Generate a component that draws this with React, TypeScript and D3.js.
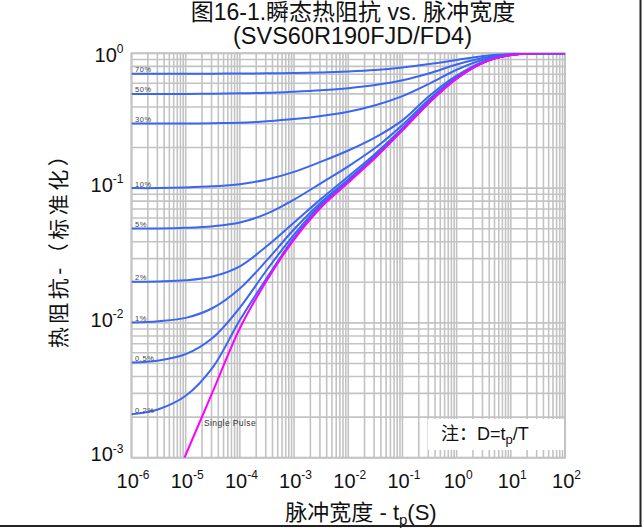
import React from 'react';
import * as d3 from 'd3';

const W = 643;
const H = 529;

// pulse-width grid (s) for the duty-cycle curves
const tGrid = [1e-6, 3.16e-6, 1e-5, 3.16e-5, 1e-4, 3.16e-4, 1e-3, 3.16e-3, 1e-2, 3.16e-2, 1e-1, 3.16e-1, 1, 3.16, 10, 31.6, 100];

const dutyLabels = ['70%', '50%', '30%', '10%', '5%', '2%', '1%', '0.5%', '0.2%'];
const duty70 = [0.705, 0.705, 0.705, 0.706, 0.708, 0.71, 0.715, 0.721, 0.733, 0.752, 0.785, 0.832, 0.891, 0.955, 0.991, 1, 1];
const duty50 = [0.5, 0.5, 0.5, 0.501, 0.505, 0.509, 0.519, 0.532, 0.551, 0.581, 0.63, 0.711, 0.826, 0.927, 0.986, 1, 1];
const duty30 = [0.301, 0.301, 0.301, 0.303, 0.305, 0.313, 0.325, 0.343, 0.369, 0.412, 0.481, 0.596, 0.755, 0.9, 0.982, 1, 1];
const duty10 = [0.1, 0.1, 0.101, 0.103, 0.107, 0.116, 0.132, 0.157, 0.19, 0.238, 0.318, 0.484, 0.682, 0.871, 0.975, 1, 1];
const duty5 = [0.0501, 0.0502, 0.0508, 0.0522, 0.0556, 0.0646, 0.0822, 0.109, 0.145, 0.199, 0.294, 0.459, 0.667, 0.863, 0.975, 1, 1];
const duty2 = [0.0202, 0.0203, 0.0207, 0.0221, 0.0263, 0.0372, 0.0556, 0.0832, 0.122, 0.18, 0.278, 0.445, 0.658, 0.859, 0.973, 1, 1];
const duty1 = [0.01005, 0.0103, 0.0109, 0.0129, 0.018, 0.0292, 0.0495, 0.0785, 0.116, 0.174, 0.274, 0.439, 0.653, 0.857, 0.973, 1, 1];
const duty05 = [0.00508, 0.00527, 0.00586, 0.00776, 0.013, 0.0248, 0.0452, 0.0759, 0.114, 0.172, 0.272, 0.436, 0.652, 0.857, 0.973, 1, 1];
const duty02 = [0.0021, 0.00229, 0.00288, 0.00468, 0.0105, 0.0216, 0.0427, 0.0733, 0.112, 0.17, 0.27, 0.434, 0.65, 0.857, 0.973, 1, 1];
const dutySeries = [duty70, duty50, duty30, duty10, duty5, duty2, duty1, duty05, duty02];

// single pulse
const spTimes = [9.5e-6, 3.16e-5, 1e-4, 3.16e-4, 1e-3, 3.16e-3, 1e-2, 3.16e-2, 1e-1, 3.16e-1, 1, 3.16, 10, 31.6, 100];
const spValues = [0.001, 0.00309, 0.00912, 0.0207, 0.0415, 0.0721, 0.11, 0.168, 0.268, 0.432, 0.649, 0.855, 0.973, 1, 1];

const xTickExps = [-6, -5, -4, -3, -2, -1, 0, 1, 2];
const yTickExps = [0, -1, -2, -3];

const titleLine1 = '图16-1.瞬态热阻抗 vs. 脉冲宽度';
const titleLine2 = '(SVS60R190FJD/FD4)';
const yTitle = '热阻抗-（标准化）';
const xTitleMain = '脉冲宽度 - t';
const spLabel = 'Single Pulse';

const LATIN = '"Liberation Sans", Arial, "Noto Sans CJK SC", sans-serif';
const CJK = '"Liberation Sans", "Noto Sans CJK SC", sans-serif';

const left = 131.5, right = 565, top = 53.3, bottom = 457.7;

export default function App() {
  const x = d3.scaleLog().domain([1e-6, 100]).range([left, right]);
  const y = d3.scaleLog().domain([1e-3, 1]).range([bottom, top]);

  const xGrid: number[] = [];
  for (let k = -6; k < 2; k++) for (let m = 1; m <= 9; m++) xGrid.push(m * Math.pow(10, k));
  xGrid.push(100);
  const yGrid: number[] = [];
  for (let k = -3; k < 0; k++) for (let m = 1; m <= 9; m++) yGrid.push(m * Math.pow(10, k));
  yGrid.push(1);

  const line = d3
    .line<[number, number]>()
    .x((d) => x(d[0]))
    .y((d) => y(d[1]))
    .curve(d3.curveCatmullRom.alpha(0.5));

  const grid = '#c3c3c3';
  const blue = '#3a66f2';

  return (
    <div style={{ position: 'absolute', left: 0, top: 0 }}>
      <svg width={W} height={H} viewBox={`0 0 ${W} ${H}`} style={{ display: 'block', background: '#fff' }}>
        <defs>
          <clipPath id="plotClip">
            <rect x={left} y={top} width={right - left} height={bottom - top} />
          </clipPath>
        </defs>
        <rect x={0} y={0} width={W} height={H} fill="#fff" />

        {/* grid */}
        <g stroke={grid} strokeWidth={1.6}>
          {xGrid.map((v, i) => (
            <line key={'xg' + i} x1={x(v)} x2={x(v)} y1={top} y2={bottom} />
          ))}
          {yGrid.map((v, i) => (
            <line key={'yg' + i} x1={left} x2={right} y1={y(v)} y2={y(v)} />
          ))}
        </g>
        <rect x={left} y={top} width={right - left} height={bottom - top} fill="none" stroke={grid} strokeWidth={2} />

        {/* note box */}
        <rect x={428} y={419} width={right - 428 - 1} height={31} fill="#fff" />
        <text x={441} y={439.5} fontFamily={CJK} fontSize={18} fill="#111">
          注：D=t
          <tspan fontSize={13} dy={4}>p</tspan>
          <tspan dy={-4}>/T</tspan>
        </text>

        {/* curves */}
        <g clipPath="url(#plotClip)" fill="none">
          {dutySeries.map((s, i) => (
            <path
              key={'d' + i}
              d={line(tGrid.map((t, j) => [t, s[j]] as [number, number])) || ''}
              stroke={blue}
              strokeWidth={2}
            />
          ))}
          <path
            d={line(spTimes.map((t, j) => [t, spValues[j]] as [number, number])) || ''}
            stroke="#ff00ff"
            strokeWidth={2}
          />
        </g>

        {/* duty labels */}
        {dutySeries.map((s, i) => (
          <text
            key={'dl' + i}
            x={x(1e-6) + 3.5}
            y={y(s[0]) - 1.6}
            fontFamily={LATIN}
            fontSize={7.5}
            letterSpacing={0.6}
            fill="#444"
          >
            {dutyLabels[i]}
          </text>
        ))}
        <text x={204} y={426} fontFamily={LATIN} fontSize={8.5} letterSpacing={0.4} fill="#333">
          {spLabel}
        </text>

        {/* x tick labels */}
        {xTickExps.map((e) => (
          <text
            key={'xt' + e}
            x={x(Math.pow(10, e)) + 1.5}
            y={487.5}
            textAnchor="middle"
            fontFamily={LATIN}
            fontSize={20}
            fill="#111"
          >
            10
            <tspan fontSize={12} dy={-8.5}>{String(e)}</tspan>
          </text>
        ))}

        {/* y tick labels */}
        {yTickExps.map((e) => (
          <text
            key={'yt' + e}
            x={123.5}
            y={e === 0 ? 61.7 : y(Math.pow(10, e)) + 3.7}
            textAnchor="end"
            fontFamily={LATIN}
            fontSize={20}
            fill="#111"
          >
            10
            <tspan fontSize={12} dy={-8.5}>{String(e)}</tspan>
          </text>
        ))}

        {/* titles */}
        <text x={353} y={20} textAnchor="middle" fontFamily={CJK} fontSize={23} fill="#111">
          {titleLine1}
        </text>
        <text x={352.5} y={44} textAnchor="middle" fontFamily={LATIN} fontSize={23.5} fill="#111">
          {titleLine2}
        </text>
        <text
          transform="translate(66,245) rotate(-90)"
          textAnchor="middle"
          fontFamily={CJK}
          fontSize={21}
          letterSpacing={3.5}
          fill="#111"
        >
          {yTitle}
        </text>
        <text x={361} y={520} textAnchor="middle" fontFamily={CJK} fontSize={22} fill="#111">
          {xTitleMain}
          <tspan fontSize={15} dy={5}>p</tspan>
          <tspan dy={-5}>(S)</tspan>
        </text>

        {/* outer frame (partial) */}
        <line x1={0} x2={641.5} y1={526} y2={526} stroke="#222" strokeWidth={2} />
        <line x1={640.5} x2={640.5} y1={0} y2={527} stroke="#222" strokeWidth={2} />
      </svg>
    </div>
  );
}
